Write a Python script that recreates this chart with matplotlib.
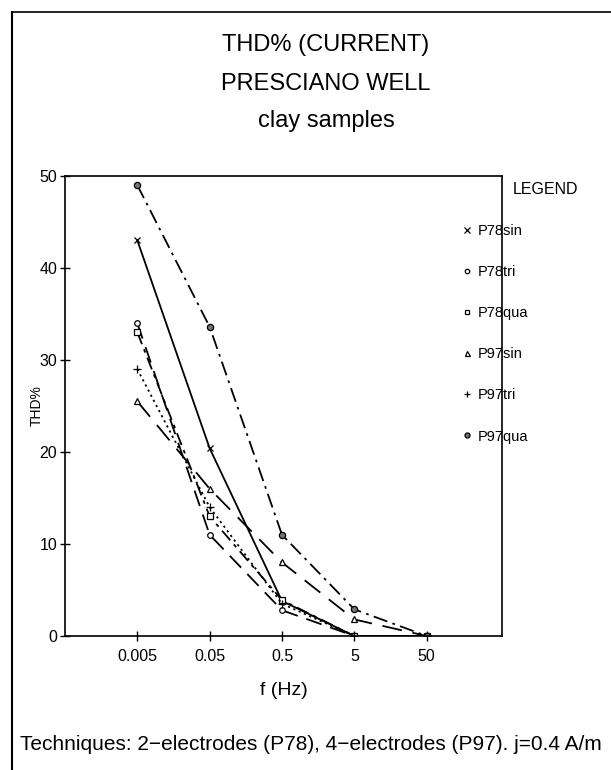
import matplotlib
matplotlib.use("Agg")
import matplotlib.pyplot as plt
from matplotlib.lines import Line2D

# frequencies (Hz) and THD% values per sample / waveform
freq = [0.005, 0.05, 0.5, 5, 50]
p78sin = [43, 20.4, 3.8, 0, 0]
p78tri = [34, 11, 2.8, 0, 0]
p78qua = [33, 13, 3.9, 0, 0]
p97sin = [25.5, 16, 8, 1.8, 0]
p97tri = [29, 14, 3.5, 0, 0]
p97qua = [49, 33.6, 11, 2.9, 0]

series_names = ["P78sin", "P78tri", "P78qua", "P97sin", "P97tri", "P97qua"]
series_values = [p78sin, p78tri, p78qua, p97sin, p97tri, p97qua]
x_tick_labels = ["0.005", "0.05", "0.5", "5", "50"]

plt.rcParams["font.family"] = ["Liberation Sans", "DejaVu Sans"]

styles = {
    "P78sin": dict(marker="x", dash=None, ms=5, mfc="none"),
    "P78tri": dict(marker="o", dash=(9, 5), ms=4, mfc="white"),
    "P78qua": dict(marker="s", dash=(7, 3, 2, 3), ms=4, mfc="white"),
    "P97sin": dict(marker="^", dash=(11, 6), ms=4.5, mfc="white"),
    "P97tri": dict(marker="+", dash=(1.2, 2), ms=6, mfc="none"),
    "P97qua": dict(marker="o", dash=(8, 3, 1.5, 3), ms=4.5, mfc="0.45"),
}

fig = plt.figure(figsize=(6.11, 7.70), dpi=100)
ax = fig.add_axes([65 / 611, 1 - 636 / 770, (502 - 65) / 611, (636 - 176) / 770])

for name, vals in zip(series_names, series_values):
    st = styles[name]
    line, = ax.plot(freq, vals, color="black", lw=1.3, marker=st["marker"],
                    ms=st["ms"], mfc=st["mfc"], mec="black", mew=0.9)
    if st["dash"] is not None:
        line.set_dashes(st["dash"])

ax.set_xscale("log")
ax.set_xlim(0.0005, 550)
ax.set_ylim(0, 50)
ax.set_xticks(freq)
ax.set_xticklabels(x_tick_labels)
ax.minorticks_off()
ax.set_yticks([0, 10, 20, 30, 40, 50])
ax.tick_params(direction="inout", length=7, width=1, labelsize=11.5)
ax.tick_params(axis="x", pad=6)
ax.tick_params(axis="y", pad=2)
for sp in ax.spines.values():
    sp.set_linewidth(1.2)

ax.set_xlabel("f (Hz)", fontsize=14, labelpad=13)
ax.set_ylabel("THD%", fontsize=10, labelpad=-3)

# title block
fig.text(326 / 611, 1 - 45 / 770, "THD% (CURRENT)", ha="center", va="center", fontsize=17)
fig.text(326 / 611, 1 - 84 / 770, "PRESCIANO WELL", ha="center", va="center", fontsize=17)
fig.text(326 / 611, 1 - 121 / 770, "clay samples", ha="center", va="center", fontsize=17)

# legend: markers only
handles = []
for name in series_names:
    st = styles[name]
    handles.append(Line2D([], [], ls="none", color="black", marker=st["marker"],
                          ms=st["ms"] * 0.8, mfc=st["mfc"], mec="black", mew=0.9))
leg = fig.legend(handles, series_names, loc="upper left",
                 bbox_to_anchor=(455 / 611, 1 - 176 / 770), frameon=False,
                 title="LEGEND", title_fontsize=11.5, fontsize=10.5,
                 handlelength=0.8, handletextpad=0.35, labelspacing=1.86,
                 borderaxespad=0)
leg._legend_box.align = "left"
leg.get_title().set_position((52, 0))

fig.text(20 / 611, 1 - 745 / 770,
         "Techniques: 2\u2212electrodes (P78), 4\u2212electrodes (P97). j=0.4 A/m",
         ha="left", va="center", fontsize=15)

# outer frame (left and top edges visible)
fig.add_artist(Line2D([12 / 611, 12 / 611], [0, 1 - 12 / 770], color="black", lw=1.5))
fig.add_artist(Line2D([12 / 611, 1], [1 - 12 / 770, 1 - 12 / 770], color="black", lw=1.2))

fig.savefig("out.png", dpi=100)
